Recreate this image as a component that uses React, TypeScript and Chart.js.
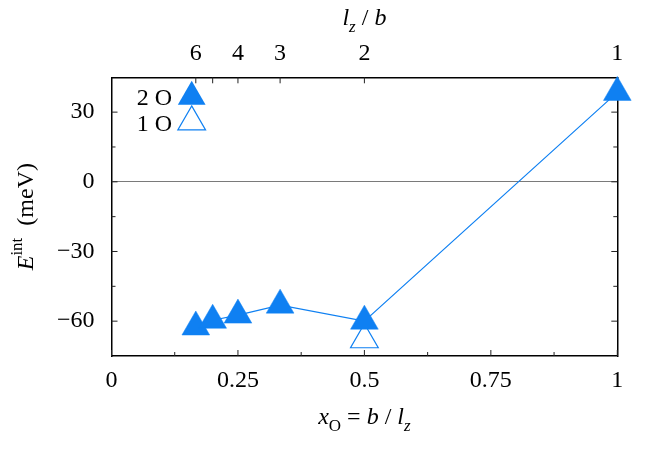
import React, { useEffect, useRef } from 'react';
import { Chart, registerables } from 'chart.js';

Chart.register(...registerables);

// ---- data ----
const xTickValues = [0, 0.25, 0.5, 0.75, 1];
const xTickLabels = ['0', '0.25', '0.5', '0.75', '1'];
const topTickValues = [1 / 6, 1 / 5, 1 / 4, 1 / 3, 1 / 2, 1];
const topTickLabels = ['6', '', '4', '3', '2', '1'];
const yTickValues = [-60, -30, 0, 30];
const yTickLabels = ['\u221260', '\u221230', '0', '30'];

const seriesNames = ['2 O', '1 O'];
const xO2 = [1 / 6, 1 / 5, 1 / 4, 1 / 3, 1 / 2, 1];
const eInt2 = [-62.5, -59.6, -57.4, -53.1, -60, 38.5];
const xO1 = [1 / 2];
const eInt1 = [-68];

const BLUE = '#0f80f2';
const FONT = "'Liberation Serif', 'Times New Roman', serif";

type Run = { t: string; italic?: boolean; size: number; dy?: number };

function fontOf(r: Run) {
  return `${r.italic ? 'italic ' : ''}${r.size}px ${FONT}`;
}

function drawRuns(ctx: CanvasRenderingContext2D, runs: Run[], cx: number, baseY: number) {
  let total = 0;
  const widths = runs.map((r) => {
    ctx.font = fontOf(r);
    const w = ctx.measureText(r.t).width;
    total += w;
    return w;
  });
  let x = cx - total / 2;
  ctx.textAlign = 'left';
  ctx.textBaseline = 'alphabetic';
  runs.forEach((r, i) => {
    ctx.font = fontOf(r);
    ctx.fillText(r.t, x, baseY + (r.dy || 0));
    x += widths[i];
  });
}

function triPath(ctx: CanvasRenderingContext2D, x: number, y: number, r: number) {
  const s = Math.sin((2 * Math.PI) / 3) * r;
  ctx.beginPath();
  ctx.moveTo(x, y - r);
  ctx.lineTo(x + s, y + r / 2);
  ctx.lineTo(x - s, y + r / 2);
  ctx.closePath();
}

const inwardTicks = {
  id: 'inwardTicks',
  beforeDatasetsDraw(chart: any) {
    const { ctx, chartArea: a, scales } = chart;
    const major = 6;
    const minor = 4;
    ctx.save();
    ctx.strokeStyle = '#222';
    ctx.lineWidth = 1;
    const v = (px: number, y0: number, y1: number) => {
      ctx.beginPath();
      ctx.moveTo(px, y0);
      ctx.lineTo(px, y1);
      ctx.stroke();
    };
    const h = (py: number, x0: number, x1: number) => {
      ctx.beginPath();
      ctx.moveTo(x0, py);
      ctx.lineTo(x1, py);
      ctx.stroke();
    };
    const xs = scales.x;
    const xt = xs.ticks.map((t: any) => t.value);
    xt.forEach((val: number) => v(xs.getPixelForValue(val), a.bottom, a.bottom - major));
    for (let i = 0; i < xt.length - 1; i++) {
      v(xs.getPixelForValue((xt[i] + xt[i + 1]) / 2), a.bottom, a.bottom - minor);
    }
    const x2 = scales.x2;
    x2.ticks.forEach((t: any) => v(x2.getPixelForValue(t.value), a.top, a.top + major));
    const ys = scales.y;
    const yt = ys.ticks.map((t: any) => t.value);
    yt.forEach((val: number) => {
      const p = ys.getPixelForValue(val);
      h(p, a.left, a.left + major);
      h(p, a.right, a.right - major);
    });
    for (let i = 0; i < yt.length - 1; i++) {
      const p = ys.getPixelForValue((yt[i] + yt[i + 1]) / 2);
      h(p, a.left, a.left + minor);
      h(p, a.right, a.right - minor);
    }
    ctx.restore();
  },
};

const titlesAndKey = {
  id: 'titlesAndKey',
  afterDraw(chart: any) {
    const { ctx, chartArea: a } = chart;
    const cx = (a.left + a.right) / 2;
    const cy = (a.top + a.bottom) / 2;
    ctx.save();
    ctx.fillStyle = '#000';
    // bottom title
    drawRuns(
      ctx,
      [
        { t: 'x', italic: true, size: 24 },
        { t: 'O', size: 17, dy: 7 },
        { t: ' = ', size: 24 },
        { t: 'b', italic: true, size: 24 },
        { t: ' / ', size: 24 },
        { t: 'l', italic: true, size: 24 },
        { t: 'z', italic: true, size: 17, dy: 7 },
      ],
      cx,
      424
    );
    // top title
    drawRuns(
      ctx,
      [
        { t: 'l', italic: true, size: 24 },
        { t: 'z', italic: true, size: 17, dy: 7 },
        { t: ' / ', size: 24 },
        { t: 'b', italic: true, size: 24 },
      ],
      cx,
      25
    );
    // left title (rotated)
    ctx.save();
    ctx.translate(33, cy);
    ctx.rotate(-Math.PI / 2);
    drawRuns(
      ctx,
      [
        { t: 'E', italic: true, size: 24 },
        { t: 'int', size: 17, dy: -11 },
        { t: '  (meV)', size: 24 },
      ],
      0,
      0
    );
    ctx.restore();
    // key
    ctx.font = `24px ${FONT}`;
    ctx.textAlign = 'right';
    ctx.textBaseline = 'alphabetic';
    ctx.fillText(seriesNames[0], a.left + 60.5, a.top + 27.7);
    ctx.fillText(seriesNames[1], a.left + 60.5, a.top + 53.4);
    const kx = a.left + 80.2;
    triPath(ctx, kx, a.top + 19.4, 16);
    ctx.fillStyle = BLUE;
    ctx.fill();
    triPath(ctx, kx, a.top + 44.6, 16);
    ctx.strokeStyle = BLUE;
    ctx.lineWidth = 1.2;
    ctx.stroke();
    ctx.restore();
  },
};

export default function App() {
  const ref = useRef<HTMLCanvasElement>(null);
  useEffect(() => {
    const canvas = ref.current;
    if (!canvas) return;
    const tickFont = { family: FONT, size: 24 };
    const chart = new Chart(canvas, {
      type: 'scatter',
      data: {
        datasets: [
          {
            label: seriesNames[0],
            data: xO2.map((x, i) => ({ x, y: eInt2[i] })),
            showLine: true,
            borderColor: BLUE,
            borderWidth: 1.2,
            backgroundColor: BLUE,
            pointStyle: 'triangle',
            pointRadius: 16,
            pointHoverRadius: 16,
            pointBackgroundColor: BLUE,
            pointBorderColor: BLUE,
            pointBorderWidth: 0.5,
            clip: false as any,
          },
          {
            label: seriesNames[1],
            data: xO1.map((x, i) => ({ x, y: eInt1[i] })),
            showLine: false,
            borderColor: BLUE,
            backgroundColor: 'rgba(255,255,255,0)',
            pointStyle: 'triangle',
            pointRadius: 16,
            pointHoverRadius: 16,
            pointBackgroundColor: 'rgba(255,255,255,0)',
            pointBorderColor: BLUE,
            pointBorderWidth: 1.2,
            clip: false as any,
          },
        ],
      },
      options: {
        animation: false,
        responsive: false,
        devicePixelRatio: 1,
        events: [],
        layout: { padding: 0 },
        plugins: {
          legend: { display: false },
          tooltip: { enabled: false },
        },
        scales: {
          x: {
            type: 'linear',
            position: 'bottom',
            min: 0,
            max: 1,
            afterBuildTicks: (s: any) => {
              s.ticks = xTickValues.map((value) => ({ value }));
            },
            afterFit: (s: any) => {
              s.height = 109;
            },
            ticks: {
              callback: (_v: any, i: number) => xTickLabels[i],
              font: tickFont,
              color: '#000',
              padding: 10,
              autoSkip: false,
              maxRotation: 0,
            },
            grid: { display: false, drawTicks: false },
            border: { display: true, color: '#000', width: 1.5 },
          },
          x2: {
            type: 'linear',
            position: 'top',
            min: 0,
            max: 1,
            afterBuildTicks: (s: any) => {
              s.ticks = topTickValues.map((value) => ({ value }));
            },
            afterFit: (s: any) => {
              s.height = 77.3;
            },
            ticks: {
              callback: (_v: any, i: number) => topTickLabels[i],
              font: tickFont,
              color: '#000',
              padding: 9,
              autoSkip: false,
              maxRotation: 0,
            },
            grid: { display: false, drawTicks: false },
            border: { display: true, color: '#000', width: 1.5 },
          },
          y: {
            type: 'linear',
            position: 'left',
            min: -75,
            max: 45,
            afterBuildTicks: (s: any) => {
              s.ticks = yTickValues.map((value) => ({ value }));
            },
            afterFit: (s: any) => {
              s.width = 111.5;
            },
            ticks: {
              callback: (_v: any, i: number) => yTickLabels[i],
              font: tickFont,
              color: '#000',
              padding: 17,
              autoSkip: false,
            },
            grid: {
              drawTicks: false,
              color: (c: any) => (c.tick && c.tick.value === 0 ? '#7a7a7a' : 'rgba(0,0,0,0)'),
              lineWidth: 1,
            },
            border: { display: true, color: '#000', width: 1.5 },
          },
          y2: {
            type: 'linear',
            position: 'right',
            min: -75,
            max: 45,
            afterFit: (s: any) => {
              s.width = 664 - 617.3;
            },
            ticks: { display: false },
            grid: { display: false, drawTicks: false },
            border: { display: true, color: '#000', width: 1.5 },
          },
        },
      } as any,
      plugins: [inwardTicks, titlesAndKey],
    });
    return () => chart.destroy();
  }, []);
  return (
    <div style={{ position: 'absolute', left: 0, top: 0, width: 664, height: 465, background: '#fff' }}>
      <canvas ref={ref} width={664} height={465} style={{ display: 'block', width: 664, height: 465 }} />
    </div>
  );
}
